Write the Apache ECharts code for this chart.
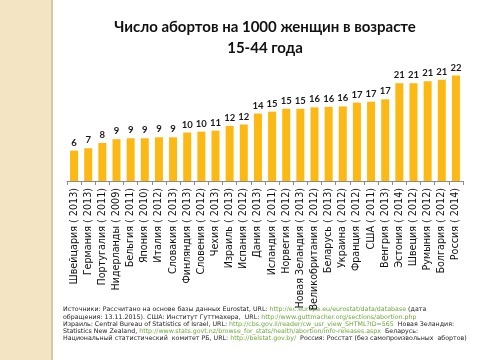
<!DOCTYPE html>
<html><head><meta charset="utf-8">
<script src="https://cdn.jsdelivr.net/npm/echarts@6/dist/echarts.min.js"></script>
<style>html,body{margin:0;padding:0;background:#fff}#c{width:480px;height:360px}</style>
</head><body><div id="c"></div>
<script>
const categories = ["Швейцария ( 2013)","Германия ( 2013)","Португалия ( 2011)","Нидерланды ( 2009)","Бельгия ( 2011)","Япония ( 2010)","Италия ( 2012)","Словакия ( 2013)","Финляндия ( 2013)","Словения ( 2012)","Чехия ( 2013)","Израиль ( 2013)","Испания ( 2012)","Дания ( 2013)","Исландия ( 2011)","Норвегия ( 2012)","Новая Зеландия ( 2013)","Великобритания ( 2012)","Беларусь ( 2013)","Украина ( 2012)","Франция ( 2012)","США ( 2011)","Венгрия ( 2013)","Эстония ( 2014)","Швеция ( 2012)","Румыния ( 2012)","Болгария ( 2012)","Россия ( 2014)"];
const values = [6.4,6.9,8.0,8.8,9.0,9.0,9.2,9.2,10.2,10.4,10.6,11.6,11.9,14.2,14.6,15.2,15.2,15.5,15.6,15.7,16.5,16.7,17.2,20.6,20.6,21.0,21.3,22.2];
const titleLines = ["Число абортов на 1000 женщин в возрасте","15-44 года"];
const sourceLines = [
 [["t","Источники: Рассчитано на основе базы данных Eurostat, URL: "],["u","http://ec.europa.eu/eurostat/data/database"],["t"," (дата"]],
 [["t","обращения: 13.11.2015). США: Институт Гуттмахера,  URL: "],["u","http://www.guttmacher.org/sections/abortion.php"]],
 [["t","Израиль: Central Bureau of Statistics of Israel, URL: "],["u","http://cbs.gov.il/reader/cw_usr_view_SHTML?ID=565"],["t","  Новая Зеландия:"]],
 [["t","Statistics New Zealand, "],["u","http://www.stats.govt.nz/browse_for_stats/health/abortion/info-releases.aspx"],["t","  Беларусь:"]],
 [["t","Национальный статистический  комитет РБ, URL: "],["u","http://belstat.gov.by/"],["t","  Россия: Росстат (без самопроизвольных  абортов)"]]
];
const esc = s => s.replace(/[{}|]/g, '');
const sourceText = sourceLines.map(l => l.map(([k, s]) => '{' + k + '|' + esc(s) + '}').join('')).join('\n');

const chart = echarts.init(document.getElementById('c'), null, {renderer: 'canvas'});
chart.setOption({
  animation: false,
  backgroundColor: '#ffffff',
  grid: {left: 67, right: 17, top: 67, bottom: 179, containLabel: false},
  xAxis: {
    type: 'category', data: categories, boundaryGap: true,
    axisLine: {lineStyle: {color: '#8c8c8c', width: 1}},
    axisTick: {show: true, length: 4, alignWithLabel: false, lineStyle: {color: '#8c8c8c'}},
    axisLabel: {interval: 0, rotate: 90, margin: 7, fontSize: 9.6, fontFamily: 'DejaVu Sans', color: '#111'}
  },
  yAxis: {type: 'value', min: 0, max: 24, show: false, splitLine: {show: false}},
  series: [{
    type: 'bar', data: values, barWidth: 8,
    itemStyle: {color: '#FDB913'},
    label: {show: true, position: 'top', distance: 3, fontSize: 9.5, fontWeight: 'bold',
      fontFamily: 'Lato', color: '#1a1a1a', formatter: p => Math.round(p.value)}
  }],
  graphic: [
    {type: 'rect', shape: {x: 0, y: 0, width: 51, height: 360}, style: {fill: '#F3E4C4'}, silent: true},
    {type: 'rect', shape: {x: 51, y: 0, width: 2, height: 360}, style: {fill: '#D5C8A6'}, silent: true},
    {type: 'text', x: 265, y: 16, style: {text: titleLines.join('\n'), textAlign: 'center',
      font: 'bold 15px Lato', fill: '#111', lineHeight: 21.5}},
    {type: 'text', x: 63, y: 306, style: {text: sourceText, fill: '#222', lineHeight: 7.3,
      rich: {t: {fontSize: 6.3, fontFamily: 'DejaVu Sans', fill: '#222', lineHeight: 7.3},
             u: {fontSize: 6.3, fontFamily: 'DejaVu Sans', fill: '#6FA83B', lineHeight: 7.3}}}}
  ]
});
</script></body></html>
